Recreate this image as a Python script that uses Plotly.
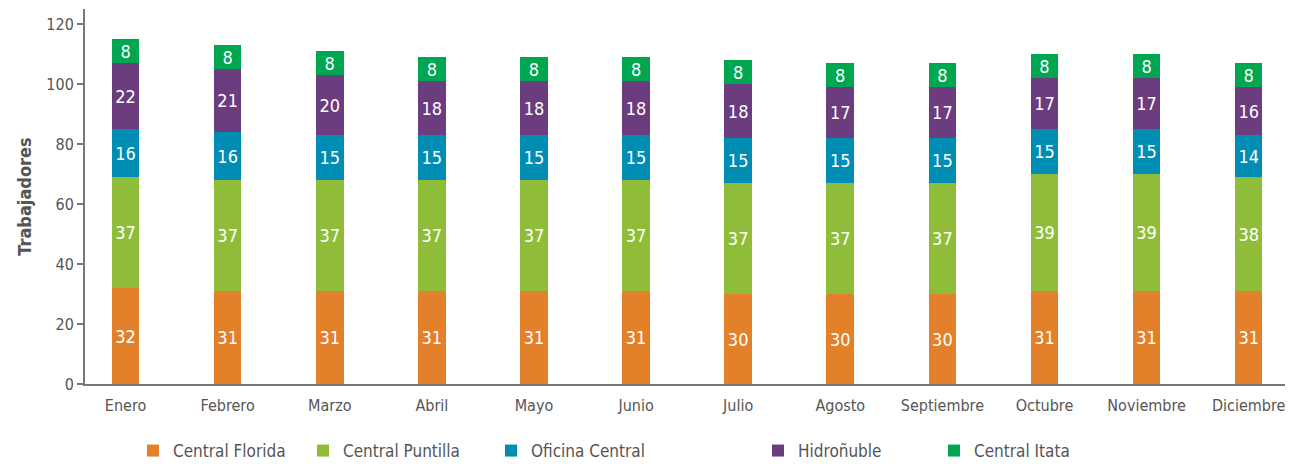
import plotly.graph_objects as go

months = ["Enero", "Febrero", "Marzo", "Abril", "Mayo", "Junio", "Julio",
          "Agosto", "Septiembre", "Octubre", "Noviembre", "Diciembre"]
central_florida = [32, 31, 31, 31, 31, 31, 30, 30, 30, 31, 31, 31]
central_puntilla = [37, 37, 37, 37, 37, 37, 37, 37, 37, 39, 39, 38]
oficina_central = [16, 16, 15, 15, 15, 15, 15, 15, 15, 15, 15, 14]
hidronuble = [22, 21, 20, 18, 18, 18, 18, 17, 17, 17, 17, 16]
central_itata = [8, 8, 8, 8, 8, 8, 8, 8, 8, 8, 8, 8]

series = [
    ("Central Florida", central_florida, "#E2812A"),
    ("Central Puntilla", central_puntilla, "#8FBD3A"),
    ("Oficina Central", oficina_central, "#008DB4"),
    ("Hidroñuble", hidronuble, "#6B3C7E"),
    ("Central Itata", central_itata, "#00A650"),
]

FONT = "DejaVu Sans Condensed, Liberation Sans Narrow, Roboto, sans-serif"
GRAY = "#555555"

# page body has an 8px margin, so the figure is sized to fill the rest
OFF = 8
W, H = 1293 - OFF, 464 - OFF
L_M, R_M, T_M, B_M = 85 - OFF, 0, 9 - OFF, 80
plot_w = W - L_M - R_M
plot_h = H - T_M - B_M

# legend marker centres in page pixels (layout only)
legend_px = [152, 322, 510, 777, 953]
legend_cy = 451 - OFF

fig = go.Figure()
for i, (name, vals, color) in enumerate(series):
    lg = "legend" if i == 0 else f"legend{i+1}"
    fig.add_trace(go.Bar(
        x=list(range(len(months))), y=vals, name=name,
        marker=dict(color=color, line=dict(width=0)),
        text=[str(v) for v in vals], textposition="inside",
        insidetextanchor="middle", textangle=0, constraintext="none",
        textfont=dict(color="white", size=18, family=FONT),
        width=0.27, legend=lg,
    ))

legend_defs = {}
for i, px in enumerate(legend_px):
    key = "legend" if i == 0 else f"legend{i+1}"
    legend_defs[key] = dict(
        x=(px - 19 - OFF - L_M) / plot_w, xanchor="left",
        y=-(legend_cy - (T_M + plot_h)) / plot_h, yanchor="middle",
        orientation="h", bgcolor="rgba(0,0,0,0)",
        font=dict(size=17, family=FONT, color=GRAY),
    )

fig.update_layout(
    barmode="stack",
    width=W, height=H,
    margin=dict(l=L_M, r=R_M, t=T_M, b=B_M, autoexpand=False),
    paper_bgcolor="white", plot_bgcolor="white",
    font=dict(family=FONT, color=GRAY, size=16),
    showlegend=True,
    **legend_defs,
)
fig.update_xaxes(
    tickmode="array", tickvals=list(range(len(months))), ticktext=months,
    range=[-0.397, 11.434], showline=True, linecolor="#777777", linewidth=2,
    showgrid=False, ticks="", ticklabelstandoff=6, ticklabeloverflow="allow",
    tickfont=dict(size=16, family=FONT, color=GRAY),
    zeroline=False, automargin=False,
)
fig.update_yaxes(
    range=[0, 125], tickvals=[0, 20, 40, 60, 80, 100, 120],
    showline=True, linecolor="#777777", linewidth=2, showgrid=False,
    ticks="outside", ticklen=6, tickwidth=2, tickcolor="#777777",
    tickfont=dict(size=16, family=FONT, color=GRAY), zeroline=False,
    automargin=False,
    title=dict(text="<b>Trabajadores</b>", font=dict(size=18, family=FONT, color=GRAY),
               standoff=10),
)

fig.write_html("out.html")
